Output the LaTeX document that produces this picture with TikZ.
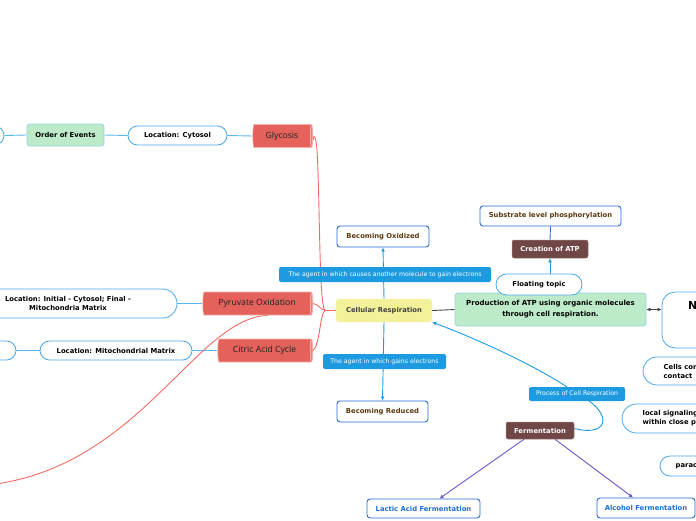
\documentclass[tikz,border=0pt]{standalone}
\usepackage{fontspec}
\setmainfont{DejaVu Sans}
\newfontfamily\rfont{Noto Sans}
\usetikzlibrary{shapes.geometric,shapes.misc,arrows.meta,backgrounds}
\definecolor{redB}{HTML}{E4625B}
\definecolor{redE}{HTML}{EE8680}
\definecolor{redL}{HTML}{F4B0AC}
\definecolor{redLine}{HTML}{F26C66}
\definecolor{pillB}{HTML}{4AA8E8}
\definecolor{lineB}{HTML}{5BB5EA}
\definecolor{darkB}{HTML}{2A6AD2}
\definecolor{lblB}{HTML}{1E9BE0}
\definecolor{greenF}{HTML}{BDEBCA}
\definecolor{greenE}{HTML}{95D3E6}
\definecolor{yellowF}{HTML}{F3F19A}
\definecolor{brownF}{HTML}{704746}
\definecolor{brownT}{HTML}{5A3A10}
\definecolor{blueT}{HTML}{1E6FD0}
\definecolor{purpleA}{HTML}{7055C8}
\definecolor{grayL}{HTML}{444444}
\begin{document}
\begin{tikzpicture}[x=1pt,y=-1pt,
  redn/.style={shape=cylinder, shape aspect=0.3, cylinder uses custom fill,
    cylinder body fill=redB, cylinder end fill=redE, draw=redL, line width=0.6pt,
    minimum width=23pt, inner sep=0pt, font=\rfont\fontsize{8.6}{10}\selectfont, text=black!85},
  pill/.style={rounded rectangle, draw=pillB, line width=0.8pt, fill=white,
    minimum height=19pt, inner sep=0pt, font=\bfseries\fontsize{6.8}{9.2}\selectfont, align=center},
  txt/.style={inner sep=0pt, font=\bfseries\fontsize{6.8}{9.2}\selectfont},
  greenbox/.style={draw=greenE, fill=greenF, line width=0.8pt, rounded corners=3pt, inner sep=0pt,
    font=\bfseries\fontsize{6.8}{9.2}\selectfont, align=center},
  wbox/.style={draw=darkB, fill=white, line width=0.9pt, rounded corners=3pt, inner sep=0pt,
    minimum height=21pt, font=\bfseries\fontsize{6.8}{8}\selectfont},
  lbl/.style={fill=lblB, rounded corners=2pt, inner sep=0pt, minimum height=15pt, text=white,
    font=\fontsize{6.2}{7.5}\selectfont},
  brownbox/.style={fill=brownF, draw=brownF!70!white, line width=0.5pt, rounded corners=2pt, inner sep=0pt,
    minimum height=18pt, text=white, font=\bfseries\fontsize{6.8}{8}\selectfont},
  bluecon/.style={draw=lineB, line width=0.9pt},
  redcon/.style={draw=redLine, line width=0.9pt},
  arr/.style={-{Latex[length=4pt,width=4pt]}}
]
\useasboundingbox (0,0) rectangle (696,520);
\clip (0,0) rectangle (696,520);

% left column
\node[pill, minimum width=88pt] (lp1) at (-40,135.5) {};
\node[greenbox, minimum width=77pt, minimum height=22pt] (order) at (65.5,135) {Order of Events};
\node[pill, minimum width=99pt] (loccyt) at (177.5,135.5) {Location: Cytosol};
\node[redn, minimum height=60pt] (glyc) at (282,136) {Glycosis};

\node[pill, minimum width=218pt, minimum height=29pt] (locpyr) at (68,303.5) {Location: Initial - Cytosol; Final -\\Mitochondria Matrix};
\node[redn, minimum height=110pt] (pyr) at (257,303.5) {Pyruvate Oxidation};

\node[pill, minimum width=92pt] (lp2) at (-30,350.5) {};
\node[pill, minimum width=152pt] (locmm) at (116,350.5) {Location: Mitochondrial Matrix};
\node[redn, minimum height=95pt] (cac) at (264.5,350.5) {Citric Acid Cycle};

% centre
\node[fill=yellowF, rounded corners=3pt, inner sep=0pt, minimum width=96pt, minimum height=23pt,
  font=\bfseries\fontsize{6.8}{8}\selectfont, text=black!75] (cr) at (384,310.5) {Cellular Respiration};
\node[wbox, minimum width=92pt, text=brownT] (ox) at (383,236.5) {Becoming Oxidized};
\node[lbl, minimum width=212pt] (lbl1) at (385,274.5) {The agent in which causes another molecule to gain electrons};
\node[lbl, minimum width=123pt] (lbl2) at (384.5,361.5) {The agent in which gains electrons};
\node[wbox, minimum width=91pt, text=brownT] (redu) at (382.5,411.5) {Becoming Reduced};

% right
\node[greenbox, minimum width=191pt, minimum height=33pt, font=\bfseries\fontsize{7}{11}\selectfont] (prod) at (550.5,309.5)
  {Production of ATP using organic molecules\\through cell respiration.};
\node[pill, minimum width=86pt, minimum height=21pt] (float) at (539,284.5) {Floating topic};
\node[brownbox, minimum width=76pt] (create) at (550,249) {Creation of ATP};
\node[wbox, minimum width=141pt, minimum height=20pt, text=brownT] (subs) at (550.5,216) {Substrate level phosphorylation};

\node[draw=pillB, line width=0.8pt, fill=white, rounded corners=13pt, minimum width=150pt, minimum height=56pt] (bigN) at (737,320) {};
\node[inner sep=0pt, anchor=west, font=\bfseries\fontsize{11}{13}\selectfont] (bigNtxt) at (688,305.5) {N};

\node[pill, minimum width=150pt, minimum height=28pt] (cells) at (718,371) {};
\node[txt, anchor=west, align=left] (cellstxt) at (663.5,371.5) {Cells com\\contact};
\node[pill, minimum width=150pt, minimum height=29pt] (local) at (697,418.5) {};
\node[txt, anchor=west, align=left] (localtxt) at (642.5,418.5) {local signaling\\within close p};
\node[pill, minimum width=150pt, minimum height=20pt] (parac) at (735,466) {};
\node[txt, anchor=west] (paractxt) at (675.5,466.5) {parac};

\node[lbl, minimum width=96pt, minimum height=14pt] (proc) at (577,394) {Process of Cell Respiration};
\node[brownbox, minimum width=68pt, minimum height=17pt] (ferm) at (540,430.5) {Fermentation};
\node[wbox, minimum width=113pt, minimum height=19pt, text=blueT] (lactic) at (423.5,508.5) {Lactic Acid Fermentation};
\node[wbox, minimum width=98pt, minimum height=20pt, text=blueT] (alco) at (646,508) {Alcohol Fermentation};

\coordinate (J) at (325,310.5);
\coordinate (farleft) at (-12,485);

\begin{scope}[on background layer]
\draw[bluecon] (lp1.east) -- (order.west);
\draw[bluecon] (order.east) -- (loccyt.west);
\draw[bluecon] (loccyt.east) -- (glyc.west);
\draw[bluecon] (locpyr.east) -- (pyr.west);
\draw[bluecon] (lp2.east) -- (locmm.west);
\draw[bluecon] (locmm.east) -- (cac.west);

\draw[redcon] (cr.west) -- (J);
\draw[redcon] (J) .. controls (319,307) and (320,200) .. (317,150) .. controls (316,138) and (314,132) .. ([yshift=-4pt]glyc.east);
\draw[redcon] (J) .. controls (320,309) and (318,304) .. (pyr.east);
\draw[redcon] (J) .. controls (320,313) and (320,345) .. (cac.east);
\draw[redcon] ([xshift=11pt]pyr.south) .. controls (195,318) and (140,468) .. (farleft);

\draw[draw=lblB, line width=0.9pt, arr] (cr.north) -- (ox.south);
\draw[draw=lblB, line width=0.9pt, arr] (cr.south) -- (redu.north);
\draw[draw=grayL, line width=0.9pt] (cr.east) -- (prod.west);
\draw[draw=grayL, line width=1.2pt, {Latex[length=4pt,width=4pt]}-{Latex[length=4pt,width=4pt]}] (prod.east) -- (bigN.west |- prod.east);
\draw[draw=lblB, line width=0.9pt, arr] (float.north -| create.south) -- (create.south);
\draw[draw=darkB, line width=0.9pt] (create.north) -- (subs.south);
\draw[draw=lblB, line width=0.9pt, arr] ([yshift=2pt]ferm.east) .. controls (612,438) and (612,410) .. (proc.center)
   .. controls (545,370) and (480,340) .. (cr.south east);
\draw[draw=purpleA, line width=0.9pt, arr] ([xshift=-16pt]ferm.south) -- ([xshift=16pt]lactic.north);
\draw[draw=purpleA, line width=0.9pt, arr] ([xshift=15pt]ferm.south) -- ([xshift=-13pt]alco.north);
\end{scope}
\end{tikzpicture}
\end{document}
